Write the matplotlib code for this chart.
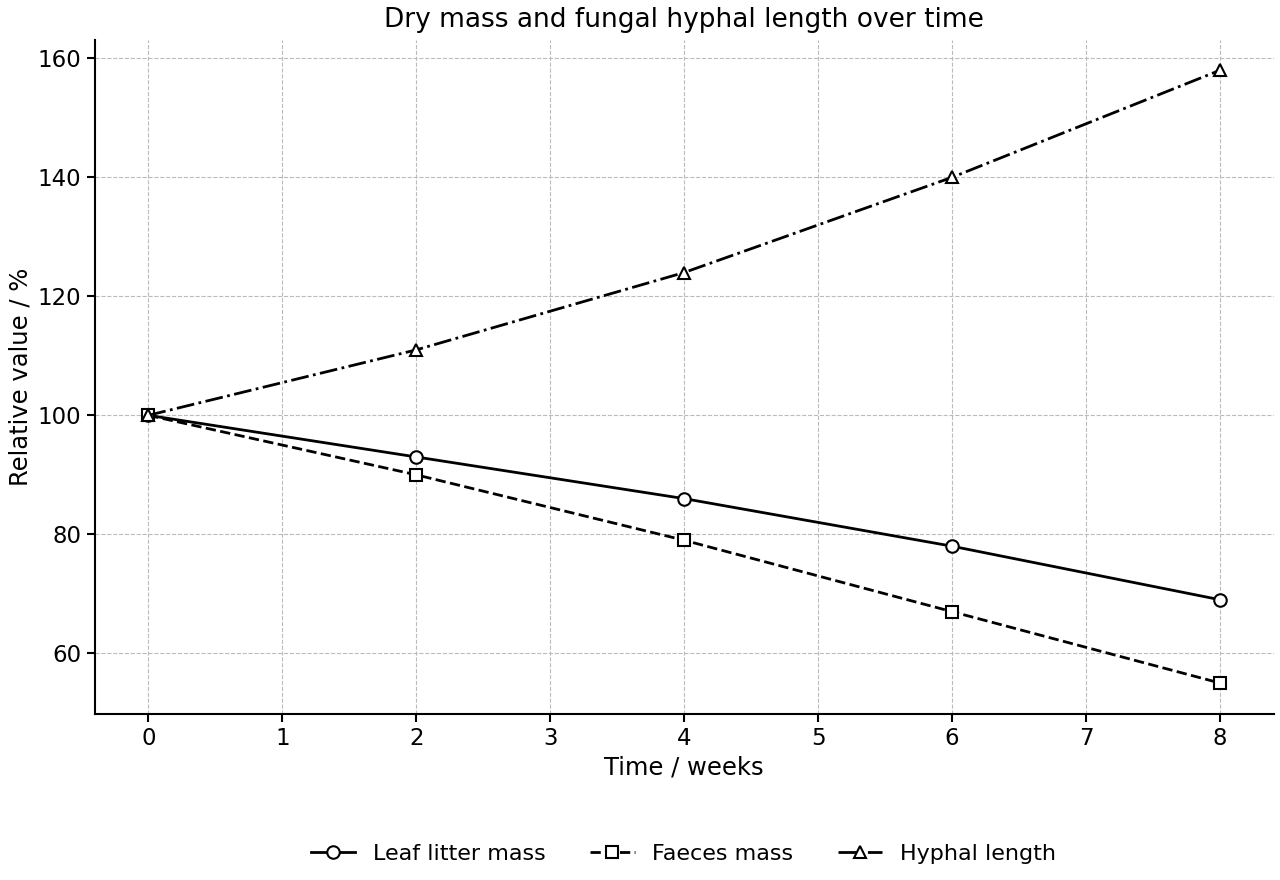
import matplotlib
matplotlib.use("Agg")
import matplotlib.pyplot as plt

weeks = [0, 2, 4, 6, 8]
leaf_litter = [100, 93, 86, 78, 69]
faeces = [100, 90, 79, 67, 55]
hyphal = [100, 111, 124, 140, 158]

fig = plt.figure(figsize=(12.8, 8.8), dpi=100)
ax = fig.add_axes([0.074, 0.189, 0.921, 0.766])

mk = dict(color="black", lw=2, markersize=9, markerfacecolor="white",
          markeredgecolor="black", markeredgewidth=1.5)
ax.plot(weeks, leaf_litter, "-", marker="o", label="Leaf litter mass", **mk)
ax.plot(weeks, faeces, "--", marker="s", label="Faeces mass", **mk)
ax.plot(weeks, hyphal, "-.", marker="^", label="Hyphal length", **mk)

ax.set_title("Dry mass and fungal hyphal length over time", fontsize=19, pad=9)
ax.set_xlabel("Time / weeks", fontsize=17.5)
ax.set_ylabel("Relative value / %", fontsize=17.5)
ax.tick_params(labelsize=16.5, width=1.5, length=6)
ax.grid(True, linestyle="--", color="#bbbbbb", lw=0.8)
ax.set_axisbelow(True)
for s in ["top", "right"]:
    ax.spines[s].set_visible(False)
for s in ["left", "bottom"]:
    ax.spines[s].set_linewidth(1.5)

fig.legend(loc="center", bbox_to_anchor=(0.534, 0.03), ncol=3, frameon=False,
           fontsize=16, columnspacing=2.0)

fig.savefig("out.png", dpi=100)
